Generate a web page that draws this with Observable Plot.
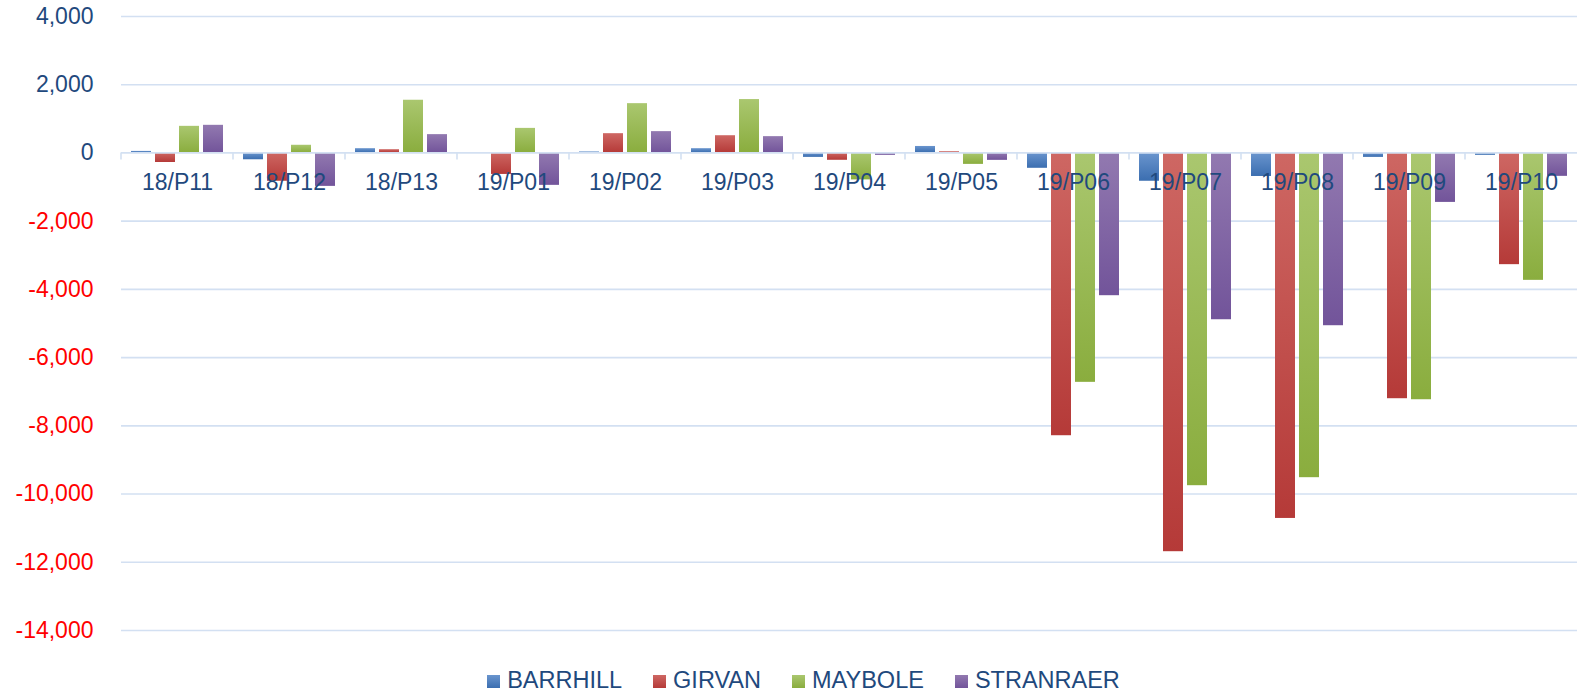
<!DOCTYPE html>
<html>
<head>
<meta charset="utf-8">
<script src="https://cdn.jsdelivr.net/npm/d3@7"></script>
<script src="https://cdn.jsdelivr.net/npm/@observablehq/plot@0.6"></script>
<style>
  html, body { margin: 0; padding: 0; background: #ffffff; }
  body { width: 1579px; height: 694px; overflow: hidden; font-family: "Liberation Sans", Arial, sans-serif; }
  #legend { display: flex; justify-content: center; align-items: center; height: 28px; padding-top: 16px; padding-left: 28px; gap: 31px; color: #1F497D; font-size: 23.5px; }
  .item { display: flex; align-items: center; gap: 7px; }
  .sw { width: 13px; height: 13px; margin-top: 2px; }
</style>
</head>
<body>
<div id="chart"></div>
<div id="legend"></div>
<script>
// ---- data ----
const categories = ["18/P11","18/P12","18/P13","19/P01","19/P02","19/P03","19/P04","19/P05","19/P06","19/P07","19/P08","19/P09","19/P10"];
const series = ["BARRHILL","GIRVAN","MAYBOLE","STRANRAER"];
const barrhill  = [45, -200, 125, 0, 30, 125, -130, 190, -450, -830, -690, -130, -70];
const girvan    = [-280, -830, 95, -630, 565, 505, -215, 35, -8290, -11690, -10715, -7205, -3275];
const maybole   = [780, 225, 1545, 720, 1445, 1565, -790, -335, -6725, -9755, -9520, -7235, -3735];
const stranraer = [810, -980, 537, -950, 625, 478, -70, -217, -4185, -4890, -5065, -1450, -686];
const yTicks = [4000, 2000, 0, -2000, -4000, -6000, -8000, -10000, -12000, -14000];

// ---- styles ----
const topColors    = ["#6A95CE", "#CE6763", "#AAC76F", "#9279B0"];
const bottomColors = ["#3B6EB0", "#B53A38", "#8AAD3E", "#72549A"];
const gridColor = "#D3E0F2";
const textBlue = "#1F497D";

const valuesBySeries = [barrhill, girvan, maybole, stranraer];
const rows = categories.flatMap((c, i) =>
  series.map((s, j) => ({cat: c, series: s, value: valuesBySeries[j][i]}))
);
const fmt = d => d.toLocaleString("en-US");

const plot = Plot.plot({
  width: 1579,
  height: 650,
  marginLeft: 119,
  marginRight: 0,
  marginTop: 16,
  marginBottom: 20,
  style: {fontFamily: "'Liberation Sans', Arial, sans-serif", fontSize: "23px", background: "white", overflow: "visible"},
  fx: {domain: categories, paddingInner: 0, paddingOuter: 0, axis: null, label: null},
  x: {domain: series, paddingInner: 0.146, paddingOuter: 0.374, axis: null, label: null},
  y: {domain: [-14000, 4000], label: null},
  color: {domain: series, range: series.map((s, i) => `url(#grad${i})`)},
  marks: [
    Plot.ruleY(yTicks.filter(d => d !== 0), {stroke: gridColor, strokeWidth: 1.6}),
    Plot.barY(rows, {fx: "cat", x: "series", y: "value", fill: "series"}),
    Plot.ruleY([0], {stroke: gridColor, strokeWidth: 1.8}),
    Plot.axisY(yTicks.filter(d => d >= 0), {tickSize: 0, tickPadding: 28, tickFormat: fmt, fill: textBlue, fontSize: 23, label: null}),
    Plot.axisY(yTicks.filter(d => d < 0), {tickSize: 0, tickPadding: 28, tickFormat: fmt, fill: "#FF0000", fontSize: 23, label: null}),
    Plot.text(categories, {fx: d => d, y: () => 0, text: d => d, dy: 29.5, fill: textBlue, fontSize: 23})
  ]
});

// gradients for the bar fills
const svg = d3.select(plot);
const defs = svg.insert("defs", ":first-child");
series.forEach((s, i) => {
  const g = defs.append("linearGradient").attr("id", "grad" + i)
    .attr("x1", 0).attr("y1", 0).attr("x2", 0).attr("y2", 1);
  g.append("stop").attr("offset", "0%").attr("stop-color", topColors[i]);
  g.append("stop").attr("offset", "100%").attr("stop-color", bottomColors[i]);
});

// category boundary tick marks on the zero line, from Plot's own scales
const fxS = plot.scale("fx");
const yS = plot.scale("y");
const y0 = yS.apply(0);
const ticksG = svg.append("g");
categories.forEach(c => {
  const x = fxS.apply(c);
  ticksG.append("line").attr("x1", x).attr("x2", x).attr("y1", y0).attr("y2", y0 + 7)
    .attr("stroke", gridColor).attr("stroke-width", 1.6);
});

document.getElementById("chart").appendChild(plot);

// legend
const legend = d3.select("#legend");
series.forEach((s, i) => {
  const item = legend.append("div").attr("class", "item");
  item.append("div").attr("class", "sw")
    .style("background", `linear-gradient(${topColors[i]}, ${bottomColors[i]})`);
  item.append("span").text(s);
});
</script>
</body>
</html>
